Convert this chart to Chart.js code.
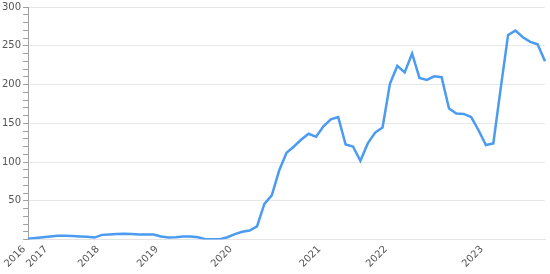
<!DOCTYPE html>
<html>
<head>
<meta charset="utf-8">
<script src="https://cdn.jsdelivr.net/npm/chart.js@4/dist/chart.umd.min.js"></script>
<style>
html,body{margin:0;padding:0;background:#fff;}
#wrap{width:550px;height:274px;position:relative;}
</style>
</head>
<body>
<div id="wrap"><canvas id="c"></canvas></div>
<script>
const categories = ['2016','','','2017','','','','','','','2018','','','','','','','','2019','','','','','','','','','','2020','','','','','','','','','','','','2021','','','','','','','','','2022','','','','','','','','','','','','','2023','','','','','','','',''];
const values = [1,2,3,4,5,5,4.5,4,3.5,2.5,6,6.5,7,7.5,7,6.5,6.5,6.5,4,2.5,3,4,4,3,0.5,0.5,0.5,3,7,10,11.5,17,46,57,89,112,120,129,136.5,132.5,146,155,158,122.5,120,101.5,124,138,144.5,201,224,215.5,240,208.5,206,210.5,209.5,169,162.5,162,158,141,122,124,195,264,269.5,261,255,252,230];
const yTicks = [50,100,150,200,250,300];

new Chart(document.getElementById('c'), {
  type: 'line',
  data: {
    labels: categories,
    datasets: [{
      data: values,
      borderColor: '#4b9bf0',
      borderWidth: 2.5,
      pointRadius: 0,
      tension: 0,
      fill: false
    }]
  },
  options: {
    responsive: true,
    maintainAspectRatio: false,
    animation: false,
    layout: { padding: { top: 7, right: 5, left: 0, bottom: 0 } },
    plugins: { legend: { display: false }, tooltip: { enabled: false } },
    scales: {
      x: {
        grid: { display: true, color: 'transparent', drawTicks: false },
        border: { display: true, color: '#e4e4e4', width: 1 },
        afterFit: s => { s.paddingRight = 0; s.paddingLeft = 0; },
        ticks: {
          autoSkip: false,
          maxRotation: 45,
          minRotation: 45,
          padding: 4,
          labelOffset: -4,
          color: '#555',
          font: { family: 'DejaVu Sans', size: 10 }
        }
      },
      y: {
        min: 0,
        max: 300,
        afterFit: s => { s.paddingTop = 0; },
        grid: {
          color: ctx => yTicks.includes(ctx.tick && ctx.tick.value) ? '#e8e8e8' : 'transparent',
          tickColor: '#a0a0a0',
          tickLength: 5,
          lineWidth: 1
        },
        border: { display: true, color: '#a0a0a0', width: 1 },
        ticks: {
          stepSize: 10,
          autoSkip: false,
          padding: 2,
          color: '#555',
          font: { family: 'DejaVu Sans', size: 10 },
          callback: v => yTicks.includes(v) ? String(v) : ''
        }
      }
    }
  }
});
</script>
</body>
</html>
